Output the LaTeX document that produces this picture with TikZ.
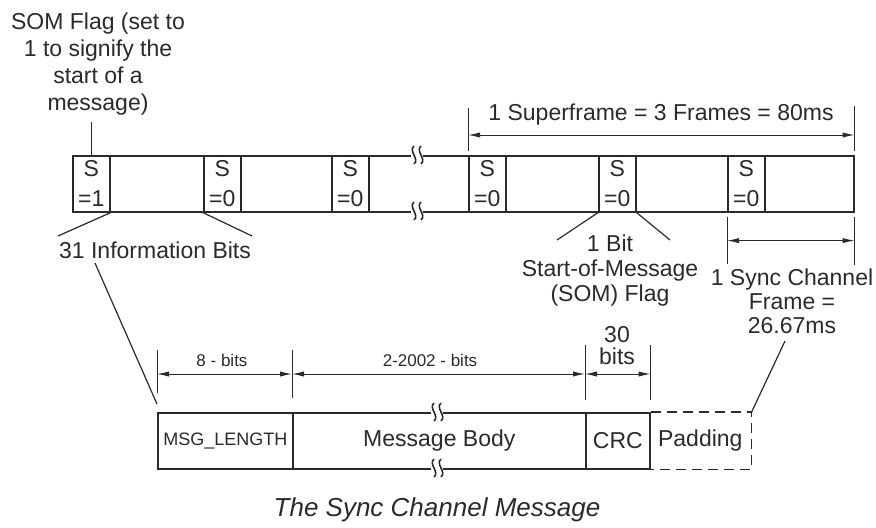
\documentclass[tikz,border=0pt]{standalone}
\usepackage{fontspec}
\setmainfont{Liberation Sans}
\usetikzlibrary{arrows.meta,positioning,calc}
\definecolor{scanInk}{HTML}{2A2A2A}

% squiggle where a long field is cut short
\newcommand{\cutmark}[1]{%
  \fill[white] ($(#1)+(-6,-5)$) rectangle ($(#1)+(6,5)$);
  \draw[line width=0.8pt] ($(#1)+(-3,9)$) .. controls ($(#1)+(3,4)$) and ($(#1)+(-9,-4)$) .. ($(#1)+(-3,-9)$);
  \draw[line width=0.8pt] ($(#1)+(4,9)$) .. controls ($(#1)+(10,4)$) and ($(#1)+(-2,-4)$) .. ($(#1)+(4,-9)$);
}

\begin{document}
\begin{tikzpicture}[
  x=0.5pt, y=-0.5pt,
  color=scanInk,
  every node/.style={inner sep=1pt, text=scanInk},
  lbl/.style={align=center, font=\fontsize{11.5}{13.5}\selectfont},
  sbit/.style={draw, line width=0.8pt, anchor=north west,
    minimum width=18.5pt, minimum height=28pt, inner sep=0pt,
    align=center, font=\fontsize{11.5}{15}\selectfont},
  field/.style={draw, line width=0.8pt, anchor=north west,
    minimum height=28pt, inner sep=0pt, font=\fontsize{11.5}{13.5}\selectfont},
  small/.style={font=\fontsize{8.5}{10}\selectfont},
  tick/.style={line width=0.5pt},
  dimarr/.style={{Latex[length=6pt,width=2.6pt]}-{Latex[length=6pt,width=2.6pt]}, line width=0.5pt},
  callout/.style={line width=0.6pt}
]
\useasboundingbox (0,0) rectangle (876,527);

% Sync channel frames
\node[field, minimum width=390.5pt] (bar) at (72,155) {};
\node[sbit] (s1) at (72,155)  {S\\=1};
\node[sbit] (s2) at (203,155) {S\\=0};
\node[sbit] (s3) at (331,155) {S\\=0};
\node[sbit] (s4) at (468,155) {S\\=0};
\node[sbit] (s5) at (598,155) {S\\=0};
\node[sbit] (s6) at (727,155) {S\\=0};
\coordinate (cutA) at (417,155);
\coordinate (cutB) at (417,211);
\cutmark{cutA}
\cutmark{cutB}

% SOM flag label
\node[lbl] (somflag) at (98,64) {SOM Flag (set to\\1 to signify the\\start of a\\message)};
\draw[callout] (s1.north) -- ++(0,-33);

% Superframe
\draw[tick] (s4.north west) ++(0,-4) -- ++(0,-43);
\draw[tick] (bar.north east) ++(0,-4) -- ++(0,-45);
\draw[dimarr] ($(s4.north west)+(0,-20)$) -- ($(bar.north east)+(0,-20)$);
\node[lbl] (superframe) at (661,115) {1 Superframe = 3 Frames = 80ms};

% One sync channel frame
\draw[tick] (s6.south west) ++(0,4) -- ++(0,47);
\draw[tick] (bar.south east) ++(0,4) -- ++(0,48);
\draw[dimarr] ($(s6.south west)+(0,28)$) -- ($(bar.south east)+(0,28)$);
\node[lbl, font=\fontsize{11.5}{12}\selectfont] (syncframe) at (792,301) {1 Sync Channel\\Frame =\\26.67ms};

% Information bits
\node[lbl] (infobits) at (155,250) {31 Information Bits};
\coordinate (infoL) at (58,236);
\coordinate (infoR) at (252,236);
\draw[callout] (s1.south east) -- (infoL);
\draw[callout] (s2.south west) -- (infoR);

% SOM bit
\node[lbl, font=\fontsize{11.5}{12.5}\selectfont] (sombit) at (610,271) {1 Bit\\Start-of-Message\\(SOM) Flag};
\coordinate (somL) at (557,240);
\coordinate (somR) at (670,240);
\draw[callout] (s5.south west) -- (somL);
\draw[callout] (s5.south east) -- (somR);

% Message fields
\node[field, draw=none, minimum width=50.5pt] (padding) at (649,412) {Padding};
\node[field, minimum width=67.5pt, font=\fontsize{9}{10}\selectfont] (msglen) at (157,412) {MSG\_LENGTH};
\node[field, minimum width=146.5pt] (body) at (292,412) {Message Body};
\node[field, minimum width=32pt] (crc) at (585,412) {CRC};
\draw[line width=0.8pt, dash pattern=on 5pt off 3pt] (crc.north east) -| (padding.south east) -- (crc.south east);
\coordinate (cutC) at (437,412);
\coordinate (cutD) at (437,468);
\cutmark{cutC}
\cutmark{cutD}

% Field lengths
\draw[tick] (msglen.north west) ++(0,-19) -- ++(0,-43);
\draw[tick] (body.north west) ++(0,-14) -- ++(0,-48);
\draw[tick] (crc.north west) ++(0,-12) -- ++(0,-55);
\draw[tick] (crc.north east) ++(0,-12) -- ++(0,-55);
\draw[dimarr] ($(msglen.north west)+(0,-38)$) -- ($(body.north west)+(0,-38)$);
\draw[dimarr] ($(body.north west)+(0,-38)$) -- ($(crc.north west)+(0,-38)$);
\draw[dimarr] ($(crc.north west)+(0,-38)$) -- ($(crc.north east)+(0,-38)$);
\node[lbl, small] (lenbits) at (222,360) {8 - bits};
\node[lbl, small] (bodybits) at (430,360) {2-2002 - bits};
\node[lbl, font=\fontsize{11.5}{11}\selectfont] (crcbits) at (617,346) {30\\bits};

% Zoom callouts
\coordinate (infoLow) at (95,263);
\draw[callout] (infoLow) -- ([yshift=4pt]msglen.north west);
\coordinate (syncLow) at (785,341);
\draw[callout] (syncLow) -- (padding.north east);

% Caption
\node[font=\fontsize{13}{15}\selectfont\itshape] (caption) at (437,510) {The Sync Channel Message};

\end{tikzpicture}
\end{document}
